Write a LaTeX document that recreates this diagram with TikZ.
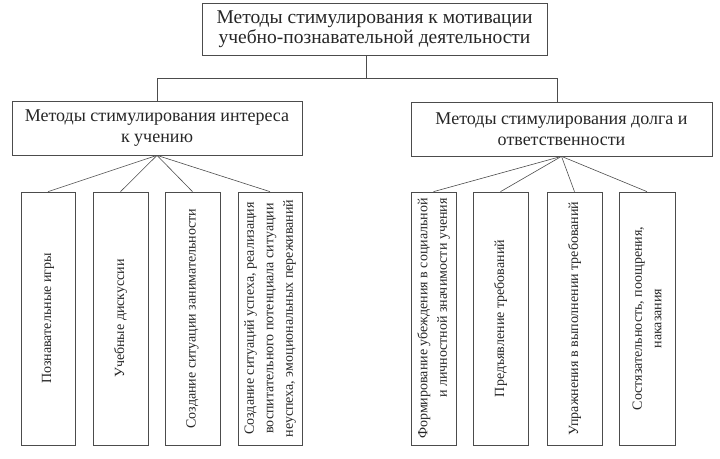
\documentclass[tikz,border=0pt]{standalone}
\usepackage{fontspec}
\setmainfont{Liberation Serif}
\usepackage{tikz}
\usetikzlibrary{positioning}

\begin{document}
\begin{tikzpicture}[
    x=1pt, y=-1pt,
    head/.style={rectangle, draw=black!70, line width=0.7pt, text=black!85, align=center,
        inner sep=2pt, font=\fontsize{18}{21.5}\selectfont},
    stick/.style={rectangle, draw=black!70, line width=0.7pt, text=black!85, rotate=90,
        minimum width=253pt, inner sep=2pt, font=\fontsize{14}{19.5}\selectfont},
    link/.style={draw=black!70, line width=0.6pt}
]
    \useasboundingbox (0,0) rectangle (720,458);

    % main boxes
    \node[head, minimum width=345pt, minimum height=52pt, font=\fontsize{19.5}{20}\selectfont] (top) at (374.5,29)
        {Методы стимулирования к мотивации\\учебно-познавательной деятельности};
    \node[head, minimum width=290pt, minimum height=54pt] (interest) at (157,128)
        {Методы стимулирования интереса\\к учению};
    \node[head, minimum width=301pt, minimum height=54pt] (duty) at (561.5,129)
        {Методы стимулирования долга и\\ответственности};

    % vertical boxes, left group
    \node[stick, minimum height=54pt] (games) at (48,318.5) {Познавательные игры};
    \node[stick, minimum height=55pt] (debates) at (120.5,318.5) {Учебные дискуссии};
    \node[stick, minimum height=55pt] (amuse) at (192.5,318.5) {Создание ситуации занимательности};
    \node[stick, minimum height=64pt, align=center] (success) at (270,318.5)
        {Создание ситуаций успеха, реализация\\воспитательного потенциала ситуации\\неуспеха, эмоциональных переживаний};

    % vertical boxes, right group
    \node[stick, minimum height=45pt, align=right] (belief) at (433.5,318.5)
        {Формирование убеждения в социальной\\и личностной значимости учения};
    \node[stick, minimum height=55pt] (demands) at (500.5,318.5) {Предъявление требований};
    \node[stick, minimum height=55pt] (drills) at (574.5,318.5) {Упражнения в выполнении требований};
    \node[stick, minimum height=56pt, align=center] (contest) at (647,318.5)
        {Состязательность, поощрения,\\наказания};

    % tree
    \coordinate (hub) at (366,78);
    \coordinate (busL) at (157,78);
    \coordinate (busR) at (557,78);
    \draw[link] (top.south -| hub) -- (hub);
    \draw[link] (busL) -- (busR);
    \draw[link] (busL) -- (busL |- interest.north);
    \draw[link] (busR) -- (busR |- duty.north);

    \draw[link] (interest.south) -- (games.east);
    \draw[link] (interest.south) -- (debates.east);
    \draw[link] (interest.south) -- (amuse.east);
    \draw[link] (interest.south) -- (success.east);
    \draw[link] (duty.south) -- (belief.east);
    \draw[link] (duty.south) -- (demands.east);
    \draw[link] (duty.south) -- (drills.east);
    \draw[link] (duty.south) -- (contest.east);
\end{tikzpicture}
\end{document}
